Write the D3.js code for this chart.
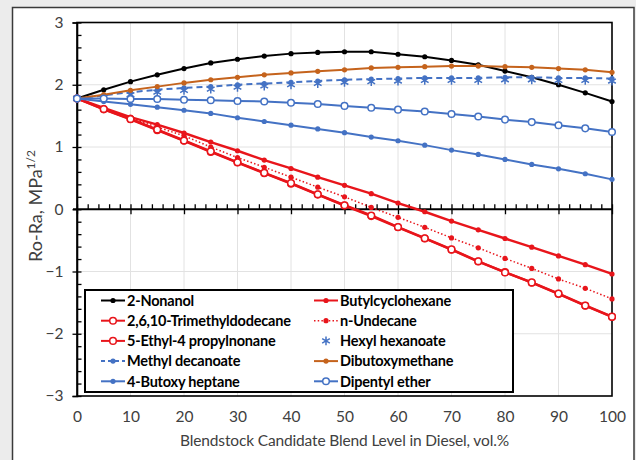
<!DOCTYPE html>
<html>
<head>
<meta charset="utf-8">
<script src="https://cdn.jsdelivr.net/npm/d3@7/dist/d3.min.js"></script>
<style>
  html, body { margin: 0; padding: 0; background: #ececec; }
  svg { display: block; }
  text { font-family: Lato, "Open Sans", "Liberation Sans", sans-serif; }
</style>
</head>
<body>
<svg id="chart" width="636" height="460"></svg>
<script>
// Blend levels (vol.%) shared by every series
const blendLevels = [0, 5, 10, 15, 20, 25, 30, 35, 40, 45, 50, 55, 60, 65, 70, 75, 80, 85, 90, 95, 100];

// Ro-Ra values (MPa^1/2) for each blendstock candidate
const nonanol            = [1.78, 1.92, 2.05, 2.16, 2.26, 2.35, 2.41, 2.46, 2.50, 2.52, 2.53, 2.53, 2.49, 2.45, 2.39, 2.32, 2.22, 2.12, 2.00, 1.87, 1.73];
const butylcyclohexane   = [1.78, 1.63, 1.48, 1.36, 1.225, 1.08, 0.94, 0.79, 0.655, 0.515, 0.385, 0.25, 0.10, -0.04, -0.19, -0.33, -0.47, -0.61, -0.75, -0.89, -1.04];
const trimethyldodecane  = [1.78, 1.605, 1.445, 1.27, 1.10, 0.92, 0.75, 0.58, 0.41, 0.235, 0.06, -0.11, -0.29, -0.47, -0.65, -0.84, -1.01, -1.18, -1.36, -1.55, -1.73];
const nUndecane          = [1.78, 1.615, 1.46, 1.32, 1.18, 1.00, 0.83, 0.675, 0.515, 0.355, 0.20, 0.03, -0.13, -0.29, -0.46, -0.62, -0.79, -0.95, -1.12, -1.27, -1.44];
const ethylPropylnonane  = [1.78, 1.61, 1.45, 1.28, 1.105, 0.93, 0.755, 0.585, 0.42, 0.24, 0.065, -0.10, -0.285, -0.465, -0.645, -0.835, -1.015, -1.175, -1.355, -1.545, -1.725];
const hexylHexanoate     = [1.78, 1.80, 1.84, 1.88, 1.91, 1.93, 1.96, 1.98, 2.00, 2.02, 2.04, 2.05, 2.06, 2.07, 2.07, 2.07, 2.08, 2.08, 2.07, 2.07, 2.06];
const methylDecanoate    = [1.78, 1.83, 1.88, 1.92, 1.95, 1.97, 2.00, 2.02, 2.04, 2.06, 2.08, 2.09, 2.10, 2.11, 2.11, 2.11, 2.12, 2.12, 2.11, 2.11, 2.10];
const dibutoxymethane    = [1.78, 1.84, 1.91, 1.97, 2.03, 2.08, 2.12, 2.16, 2.19, 2.215, 2.24, 2.27, 2.28, 2.29, 2.30, 2.30, 2.29, 2.28, 2.26, 2.24, 2.20];
const butoxyHeptane      = [1.78, 1.73, 1.685, 1.64, 1.59, 1.54, 1.47, 1.41, 1.35, 1.29, 1.23, 1.16, 1.10, 1.03, 0.95, 0.88, 0.80, 0.72, 0.65, 0.57, 0.48];
const dipentylEther      = [1.78, 1.78, 1.77, 1.77, 1.76, 1.75, 1.74, 1.73, 1.71, 1.69, 1.66, 1.63, 1.60, 1.57, 1.53, 1.49, 1.44, 1.40, 1.35, 1.30, 1.24];

// Series names in legend order (row by row, two columns)
const seriesNames = [
  "2-Nonanol", "Butylcyclohexane",
  "2,6,10-Trimethyldodecane", "n-Undecane",
  "5-Ethyl-4 propylnonane", "Hexyl hexanoate",
  "Methyl decanoate", "Dibutoxymethane",
  "4-Butoxy heptane", "Dipentyl ether"
];
const seriesValues = [
  nonanol, butylcyclohexane,
  trimethyldodecane, nUndecane,
  ethylPropylnonane, hexylHexanoate,
  methylDecanoate, dibutoxymethane,
  butoxyHeptane, dipentylEther
];

// Axis ticks
const xTicks = [0, 10, 20, 30, 40, 50, 60, 70, 80, 90, 100];
const yTicks = [-3, -2, -1, 0, 1, 2, 3];

// Styling per series
const RED = "#e8151b", BLUE = "#4472c4", ORANGE = "#c5631c";
const styles = {
  "2-Nonanol":                { color: "#000", width: 2, dash: null, marker: "dot" },
  "Butylcyclohexane":         { color: RED, width: 2.4, dash: null, marker: "dot" },
  "2,6,10-Trimethyldodecane": { color: RED, width: 2.4, dash: null, marker: "open" },
  "n-Undecane":               { color: RED, width: 1.5, dash: "1.5,2.2", marker: "dot" },
  "5-Ethyl-4 propylnonane":   { color: RED, width: 2.4, dash: null, marker: "open" },
  "Hexyl hexanoate":          { color: BLUE, width: 0, dash: null, marker: "asterisk" },
  "Methyl decanoate":         { color: BLUE, width: 2, dash: "6,4", marker: "dot" },
  "Dibutoxymethane":          { color: ORANGE, width: 2, dash: null, marker: "dot" },
  "4-Butoxy heptane":         { color: BLUE, width: 2, dash: null, marker: "dot" },
  "Dipentyl ether":           { color: BLUE, width: 2, dash: null, marker: "open" }
};

const svg = d3.select("#chart");

// Outer chart frame
svg.append("rect")
  .attr("x", 12.5).attr("y", 7.5).attr("width", 621.5).attr("height", 460)
  .attr("fill", "#fff").attr("stroke", "#3a3a3a").attr("stroke-width", 1.5);

const plot = { left: 77, right: 612, top: 22.5, bottom: 396 };
const x = d3.scaleLinear().domain([0, 100]).range([plot.left, plot.right]);
const y = d3.scaleLinear().domain([-3, 3]).range([plot.bottom, plot.top]);

// Gridlines
const grid = svg.append("g").attr("stroke", "#e2e2e2").attr("stroke-width", 1);
grid.selectAll("line.v").data(xTicks.filter(d => d > 0 && d < 100)).join("line")
  .attr("x1", d => x(d)).attr("x2", d => x(d))
  .attr("y1", plot.top).attr("y2", plot.bottom);
grid.selectAll("line.h").data(yTicks.filter(d => d !== 0 && Math.abs(d) < 3)).join("line")
  .attr("x1", plot.left).attr("x2", plot.right)
  .attr("y1", d => y(d)).attr("y2", d => y(d));

// Plot area border
svg.append("rect")
  .attr("x", plot.left).attr("y", plot.top)
  .attr("width", plot.right - plot.left).attr("height", plot.bottom - plot.top)
  .attr("fill", "none").attr("stroke", "#000").attr("stroke-width", 1.6);

// Y axis: major ticks outside with labels, minor ticks inside every 0.2
const yMinor = d3.range(-3, 3.001, 0.2).map(v => +v.toFixed(1));
const yAxis = svg.append("g").attr("transform", `translate(${plot.left},0)`)
  .call(d3.axisLeft(y).tickValues(yTicks).tickSize(4.5).tickPadding(9).tickFormat(d3.format("d")));
svg.append("g").attr("transform", `translate(${plot.left},0)`)
  .call(d3.axisRight(y).tickValues(yMinor).tickSize(4.5).tickFormat(""))
  .call(g => g.select(".domain").remove());
yAxis.select(".domain").attr("stroke-width", 1.6);
yAxis.selectAll("text").attr("font-size", 15.5).attr("fill", "#404040");

// X axis drawn at y = 0: majors cross the line, minors every 2 point up
const xMinor = d3.range(0, 100.001, 2);
const xAxis0 = svg.append("g").attr("transform", `translate(0,${y(0)})`)
  .call(d3.axisBottom(x).tickValues(xTicks).tickSize(5).tickSizeOuter(0).tickFormat(""));
xAxis0.select(".domain").attr("stroke-width", 2).attr("d", `M${plot.left - 4},0H${plot.right}`);
svg.append("g").attr("transform", `translate(0,${y(0)})`)
  .call(d3.axisTop(x).tickValues(xMinor).tickSize(5).tickFormat(""))
  .call(g => g.select(".domain").remove());
svg.selectAll(".tick line").attr("stroke", "#000").attr("stroke-width", 1.3);

// X tick labels below the plot
const xLabels = svg.append("g").attr("transform", `translate(0,${plot.bottom})`)
  .call(d3.axisBottom(x).tickValues(xTicks).tickSize(0).tickPadding(15));
xLabels.select(".domain").remove();
xLabels.selectAll("text").attr("font-size", 15.5).attr("fill", "#404040");

// Axis titles
svg.append("text")
  .attr("x", (plot.left + plot.right) / 2).attr("y", 446)
  .attr("text-anchor", "middle").attr("font-size", 15.5).attr("fill", "#404040")
  .attr("letter-spacing", "-0.15")
  .text("Blendstock Candidate Blend Level in Diesel, vol.%");

const yTitle = svg.append("text")
  .attr("transform", `translate(42,206) rotate(-90)`)
  .attr("text-anchor", "middle").attr("font-size", 18).attr("fill", "#404040");
yTitle.append("tspan").text("Ro-Ra, MPa");
yTitle.append("tspan").attr("dy", -7).attr("font-size", 12).text("1/2");

// Series
const line = d3.line().x((d, i) => x(blendLevels[i])).y(d => y(d));
const asterisk = d3.symbol().type(d3.symbolAsterisk).size(55);

function drawMarker(g, s, cx, cy) {
  if (s.marker === "dot") {
    g.append("circle").attr("cx", cx).attr("cy", cy).attr("r", 2.6).attr("fill", s.color);
  } else if (s.marker === "open") {
    g.append("circle").attr("cx", cx).attr("cy", cy).attr("r", 3.3)
      .attr("fill", "#fff").attr("stroke", s.color).attr("stroke-width", 1.5);
  } else if (s.marker === "asterisk") {
    g.append("path").attr("d", asterisk()).attr("transform", `translate(${cx},${cy})`)
      .attr("fill", "none").attr("stroke", s.color).attr("stroke-width", 1.5);
  }
}

const seriesLayer = svg.append("g");
seriesNames.forEach((name, k) => {
  const s = styles[name];
  const values = seriesValues[k];
  const g = seriesLayer.append("g");
  if (s.width > 0) {
    g.append("path").attr("d", line(values))
      .attr("fill", "none").attr("stroke", s.color).attr("stroke-width", s.width)
      .attr("stroke-dasharray", s.dash);
  }
  values.forEach((v, i) => drawMarker(g, s, x(blendLevels[i]), y(v)));
});

// Legend
const legend = svg.append("g");
legend.append("rect")
  .attr("x", 85).attr("y", 290).attr("width", 428).attr("height", 102)
  .attr("fill", "#fff").attr("stroke", "#000").attr("stroke-width", 2);
seriesNames.forEach((name, k) => {
  const s = styles[name];
  const col = k % 2, row = Math.floor(k / 2);
  const x0 = col === 0 ? 101 : 314;
  const cy = 300.5 + row * 20.2;
  const g = legend.append("g");
  if (s.width > 0) {
    g.append("line").attr("x1", x0).attr("x2", x0 + 24).attr("y1", cy).attr("y2", cy)
      .attr("stroke", s.color).attr("stroke-width", Math.min(s.width, 2))
      .attr("stroke-dasharray", s.dash ? (s.dash === "6,4" ? "4,3" : s.dash) : null);
  }
  drawMarker(g, s, x0 + 12, cy);
  g.append("text").attr("x", x0 + 26).attr("y", cy).attr("dy", "0.36em")
    .attr("font-size", 14.5).attr("font-weight", "bold").attr("fill", "#000")
    .attr("letter-spacing", "-0.2")
    .text(name);
});
</script>
</body>
</html>
